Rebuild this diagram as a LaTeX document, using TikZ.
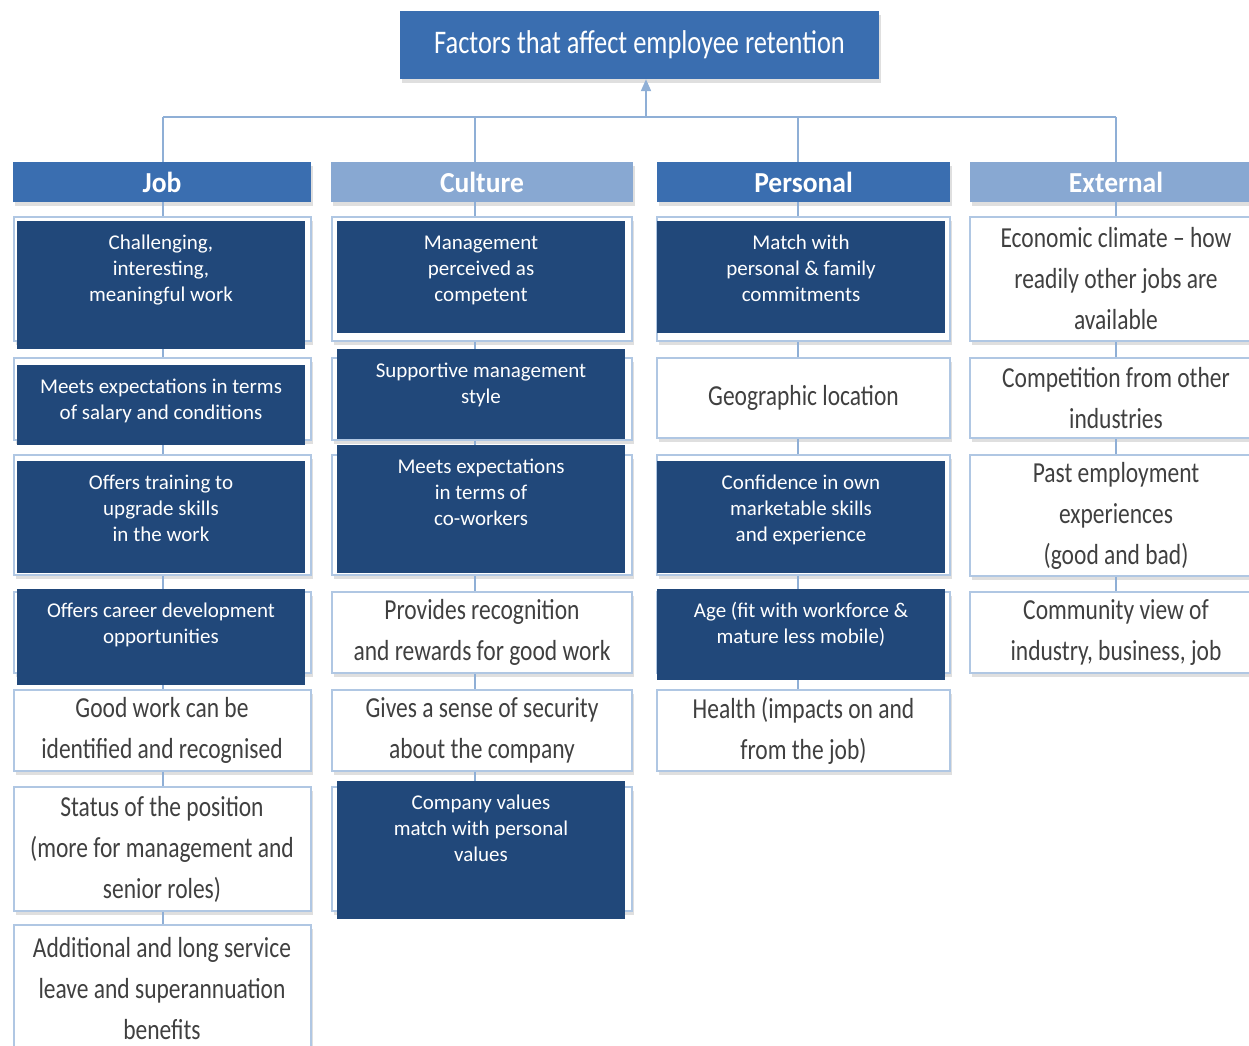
\documentclass[tikz,border=0pt]{standalone}
\usepackage{fontspec}
\setmainfont{Carlito}
\newfontfamily\gillish[FakeStretch=0.81]{Carlito}
\newfontfamily\titlefont[FakeStretch=0.8]{Carlito}
\newfontfamily\headfont[FakeStretch=0.95]{Carlito}
\usetikzlibrary{shadows,arrows.meta}

\definecolor{titleblue}{HTML}{3A6EB0}
\definecolor{paleblue}{HTML}{88A8D2}
\definecolor{navy}{HTML}{21487A}
\definecolor{linkblue}{HTML}{8FAFD6}
\definecolor{rimblue}{HTML}{B0C7E3}
\definecolor{inkgray}{HTML}{404040}

% text block of a navy box: fixed size, lines start near the top
\newcommand\navytext[3]{\parbox[c][#2pt][t]{#1pt}{\centering\fontsize{21}{26}\selectfont\vspace*{10pt}\strut #3\par}}

\tikzset{
  link/.style={draw=linkblue, line width=2pt},
  softshadow/.style={drop shadow={shadow xshift=2pt, shadow yshift=-4pt, opacity=0.18, fill=black!70}},
  cell/.style={draw=rimblue, line width=2pt, fill=white, inner sep=0pt, align=center,
    text=inkgray, font=\gillish\fontsize{29}{41}\selectfont, softshadow},
  navycell/.style={fill=navy, inner sep=0pt, text=white},
  head/.style={inner sep=0pt, text=white, minimum height=40pt,
    font=\headfont\bfseries\fontsize{29}{30}\selectfont, softshadow},
  headdark/.style={head, fill=titleblue},
  headpale/.style={head, fill=paleblue},
}

\begin{document}
\begin{tikzpicture}[x=1pt,y=-1pt]
\useasboundingbox (0,0) rectangle (1249,1045);

% column line positions on the top bar
\coordinate (barJ) at (163,117);
\coordinate (barC) at (475,117);
\coordinate (barM) at (646,117);
\coordinate (barP) at (797.5,117);
\coordinate (barE) at (1116,117);

% title
\node[fill=titleblue, text=white, minimum width=479pt, minimum height=68pt, inner sep=0pt,
  font=\titlefont\fontsize{33}{36}\selectfont, softshadow] (title) at (639.5,45)
  {Factors that affect employee retention};

% column headers
\node[headdark, minimum width=298pt] (hJ) at (162,182) {Job};
\node[headpale, minimum width=302pt] (hC) at (482,182) {Culture};
\node[headdark, minimum width=293pt] (hP) at (803.5,182) {Personal};
\node[headpale, minimum width=292pt] (hE) at (1116,182) {External};

% Job column
\node[cell, minimum width=297pt, minimum height=124pt] (j1) at (162,279) {};
\node[cell, minimum width=297pt, minimum height=82pt]  (j2) at (162,399) {};
\node[cell, minimum width=297pt, minimum height=120pt] (j3) at (162,515) {};
\node[cell, minimum width=297pt, minimum height=81pt]  (j4) at (162,632.5) {};
\node[cell, minimum width=297pt, minimum height=81pt]  (j5) at (162,730.5)
  {Good work can be\\identified and recognised};
\node[cell, minimum width=297pt, minimum height=124pt] (j6) at (162,849)
  {Status of the position\\(more for management and\\senior roles)};
\node[cell, minimum width=297pt, minimum height=128pt] (j7) at (162,989)
  {Additional and long service\\leave and superannuation\\benefits};

% Culture column
\node[cell, minimum width=300pt, minimum height=124pt] (c1) at (482,279) {};
\node[cell, minimum width=300pt, minimum height=82pt]  (c2) at (482,399) {};
\node[cell, minimum width=300pt, minimum height=120pt] (c3) at (482,515) {};
\node[cell, minimum width=300pt, minimum height=81pt]  (c4) at (482,632.5)
  {Provides recognition\\and rewards for good work};
\node[cell, minimum width=300pt, minimum height=81pt]  (c5) at (482,730.5)
  {Gives a sense of security\\about the company};
\node[cell, minimum width=300pt, minimum height=124pt] (c6) at (482,849) {};

% Personal column
\node[cell, minimum width=293pt, minimum height=124pt] (p1) at (803.5,279) {};
\node[cell, minimum width=293pt, minimum height=80pt]  (p2) at (803.5,398) {Geographic location};
\node[cell, minimum width=293pt, minimum height=120pt] (p3) at (803.5,515) {};
\node[cell, minimum width=293pt, minimum height=81pt]  (p4) at (803.5,632.5) {};
\node[cell, minimum width=293pt, minimum height=81pt]  (p5) at (803.5,730.5)
  {Health (impacts on and\\from the job)};

% External column
\node[cell, minimum width=292pt, minimum height=124pt] (e1) at (1116,279)
  {Economic climate – how\\readily other jobs are\\available};
\node[cell, minimum width=292pt, minimum height=80pt]  (e2) at (1116,398)
  {Competition from other\\industries};
\node[cell, minimum width=292pt, minimum height=121pt] (e3) at (1116,515.5)
  {Past employment\\experiences\\(good and bad)};
\node[cell, minimum width=292pt, minimum height=81pt]  (e4) at (1116,632.5)
  {Community view of\\industry, business, job};

% connectors
\draw[link] (barJ) -- (barE);
\draw[link, -{Triangle[width=10pt,length=12pt]}] (barM) -- (title.south -| barM);
\foreach \b/\h in {barJ/hJ, barC/hC, barP/hP, barE/hE}
  \draw[link] (\b) -- (\h.north -| \b);
\foreach \a/\b in {hJ/j1, j1/j2, j2/j3, j3/j4, j4/j5, j5/j6, j6/j7}
  \draw[link] (\a.south -| barJ) -- (\b.north -| barJ);
\foreach \a/\b in {hC/c1, c1/c2, c2/c3, c3/c4, c4/c5, c5/c6}
  \draw[link] (\a.south -| barC) -- (\b.north -| barC);
\foreach \a/\b in {hP/p1, p1/p2, p2/p3, p3/p4, p4/p5}
  \draw[link] (\a.south -| barP) -- (\b.north -| barP);
\foreach \a/\b in {hE/e1, e1/e2, e2/e3, e3/e4}
  \draw[link] (\a.south -| barE) -- (\b.north -| barE);

% navy highlight boxes
\node[navycell] (J1) at (161,285) {\navytext{288}{128}{Challenging,\\interesting,\\meaningful work}};
\node[navycell] (J2) at (161,405) {\navytext{288}{80}{Meets expectations in terms\\of salary and conditions}};
\node[navycell] (J3) at (161,517) {\navytext{288}{112}{Offers training to\\upgrade skills\\in the work}};
\node[navycell] (J4) at (161,637) {\navytext{288}{96}{Offers career development\\opportunities}};

\node[navycell] (C1) at (481,277) {\navytext{288}{112}{Management\\perceived as\\competent}};
\node[navycell] (C2) at (481,394) {\navytext{288}{90}{Supportive management\\style}};
\node[navycell] (C3) at (481,509) {\navytext{288}{128}{Meets expectations\\in terms of\\co-workers}};
\node[navycell] (C6) at (481,850) {\navytext{288}{138}{Company values\\match with personal\\values}};

\node[navycell] (P1) at (801,277) {\navytext{288}{112}{Match with\\personal \& family\\commitments}};
\node[navycell] (P3) at (801,517) {\navytext{288}{112}{Confidence in own\\marketable skills\\and experience}};
\node[navycell] (P4) at (801,634.5) {\navytext{288}{91}{Age (fit with workforce \&\\mature less mobile)}};
\end{tikzpicture}
\end{document}
